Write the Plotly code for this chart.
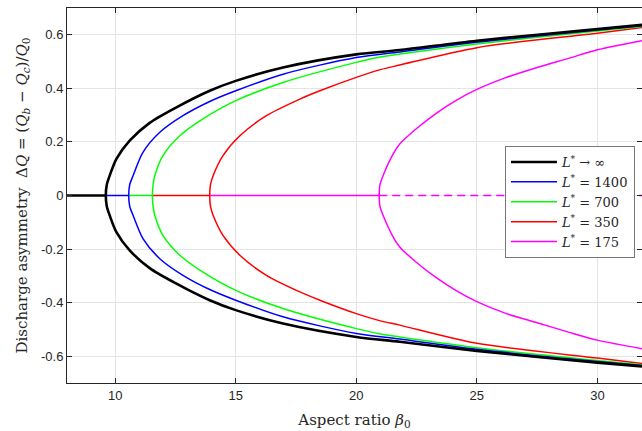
import plotly.graph_objects as go

# ---- data ----
beta_min = 8.0
beta_max = 31.85

names = ["<i>L</i><sup>*</sup> → ∞", "<i>L</i><sup>*</sup> = 1400", "<i>L</i><sup>*</sup> = 700",
         "<i>L</i><sup>*</sup> = 350", "<i>L</i><sup>*</sup> = 175"]
colors = ["#000000", "#0000ff", "#00ff00", "#ff0000", "#ff00ff"]
widths = [2.6, 1.5, 1.5, 1.5, 1.5]

beta_inf = [9.61, 9.65, 9.77, 10.05, 10.60, 11.43, 12.54, 13.92, 15.0, 16.96, 20.0, 21.8, 25.0, 30.0, 31.85]
up_inf = [0, 0.04, 0.074, 0.137, 0.205, 0.271, 0.329, 0.391, 0.428, 0.478, 0.527, 0.543, 0.578, 0.621, 0.637]
lo_inf = [0, -0.04, -0.074, -0.137, -0.205, -0.271, -0.329, -0.391, -0.428, -0.478, -0.528, -0.546, -0.580, -0.624, -0.638]

beta_1400 = [10.56, 10.60, 10.74, 11.15, 11.85, 12.81, 13.92, 15.0, 16.96, 20.0, 21.8, 25.0, 30.0, 31.85]
up_1400 = [0, 0.04, 0.074, 0.161, 0.236, 0.298, 0.351, 0.391, 0.453, 0.515, 0.536, 0.572, 0.618, 0.634]
lo_1400 = [0, -0.04, -0.074, -0.161, -0.236, -0.298, -0.351, -0.391, -0.453, -0.515, -0.536, -0.574, -0.620, -0.635]

beta_700 = [11.54, 11.57, 11.64, 11.98, 12.68, 13.64, 15.0, 16.96, 20.0, 21.0, 21.8, 25.0, 30.0, 31.85]
up_700 = [0, 0.04, 0.074, 0.149, 0.223, 0.286, 0.354, 0.422, 0.497, 0.517, 0.528, 0.566, 0.614, 0.631]
lo_700 = [0, -0.04, -0.074, -0.149, -0.223, -0.286, -0.354, -0.422, -0.497, -0.517, -0.528, -0.568, -0.616, -0.632]

beta_350 = [13.92, 13.95, 14.06, 14.47, 15.17, 16.27, 17.66, 18.49, 20.0, 21.0, 21.8, 25.0, 30.0, 31.85]
up_350 = [0, 0.04, 0.074, 0.149, 0.223, 0.298, 0.360, 0.391, 0.441, 0.470, 0.487, 0.552, 0.606, 0.627]
lo_350 = [0, -0.04, -0.074, -0.149, -0.223, -0.298, -0.360, -0.391, -0.441, -0.468, -0.484, -0.552, -0.607, -0.627]

beta_175 = [20.95, 20.98, 21.11, 21.53, 21.8, 22.5, 23.3, 24.16, 25.0, 26.2, 27.5, 28.8, 30.0, 31.85]
up_175 = [0, 0.04, 0.074, 0.155, 0.192, 0.250, 0.306, 0.356, 0.396, 0.440, 0.478, 0.512, 0.544, 0.578]
lo_175 = [0, -0.04, -0.074, -0.155, -0.192, -0.250, -0.306, -0.356, -0.396, -0.440, -0.475, -0.510, -0.540, -0.572]

x_ticks = [10, 15, 20, 25, 30]
x_ticktext = ["10", "15", "20", "25", "30"]
y_ticks = [-0.6, -0.4, -0.2, 0, 0.2, 0.4, 0.6]
y_ticktext = ["-0.6", "-0.4", "-0.2", "0", "0.2", "0.4", "0.6"]

curves = [
    (beta_inf, up_inf, lo_inf),
    (beta_1400, up_1400, lo_1400),
    (beta_700, up_700, lo_700),
    (beta_350, up_350, lo_350),
    (beta_175, up_175, lo_175),
]

fig = go.Figure()

# draw from L*=175 up to L*->inf so the black curve lies on top
for i in reversed(range(len(curves))):
    b, up, lo = curves[i]
    # visible part of the stable zero branch (from previous critical beta to this one)
    start = beta_min if i == 0 else curves[i - 1][0][0]
    fig.add_trace(go.Scatter(x=[start, b[0]], y=[0, 0], mode="lines",
                             line=dict(color=colors[i], width=widths[i]),
                             showlegend=False, hoverinfo="skip"))
    # unstable zero branch for L*=175 (dashed)
    if i == len(curves) - 1:
        fig.add_trace(go.Scatter(x=[b[0], beta_max], y=[0, 0], mode="lines",
                                 line=dict(color=colors[i], width=widths[i], dash="8px,5px"),
                                 showlegend=False, hoverinfo="skip"))
    xs = list(reversed(b)) + list(b[1:])
    ys = list(reversed(lo)) + list(up[1:])
    fig.add_trace(go.Scatter(x=xs, y=ys, mode="lines", name=names[i],
                             line=dict(color=colors[i], width=widths[i], shape="spline", smoothing=0.8),
                             legendrank=i + 1))

axis_common = dict(
    showgrid=True, gridcolor="#e4e4e4", gridwidth=1,
    showline=True, linecolor="#262626", linewidth=1,
    ticks="inside", ticklen=5, tickcolor="#262626", mirror="ticks",
    tickfont=dict(family="Liberation Sans, Arial", size=13, color="#262626"),
    zeroline=False, automargin=False,
)

fig.update_layout(
    width=642, height=431,
    margin=dict(l=67, r=0, t=8, b=48),
    paper_bgcolor="white", plot_bgcolor="white",
    xaxis=dict(range=[beta_min, beta_max], tickvals=x_ticks, ticktext=x_ticktext,
               title=dict(text="Aspect ratio <i>β</i><sub>0</sub>", standoff=12,
                          font=dict(family="DejaVu Serif", size=15, color="#262626")),
               **axis_common),
    yaxis=dict(range=[-0.7, 0.7], tickvals=y_ticks, ticktext=y_ticktext,
               title=dict(text="Discharge asymmetry  Δ<i>Q</i> = (<i>Q</i><sub><i>b</i></sub> − <i>Q</i><sub><i>c</i></sub>)/<i>Q</i><sub>0</sub>",
                          standoff=9, font=dict(family="DejaVu Serif", size=15, color="#262626")),
               **axis_common),
    legend=dict(x=0.7617, y=0.632, xanchor="left", yanchor="top",
                bgcolor="white", bordercolor="#777777", borderwidth=1,
                font=dict(family="DejaVu Serif", size=13, color="#262626"),
                itemwidth=46, tracegroupgap=0),
    showlegend=True,
)

fig.write_html("out.html", config={"displayModeBar": False},
               post_script="document.body.style.margin='0px';document.body.style.overflow='hidden';")
